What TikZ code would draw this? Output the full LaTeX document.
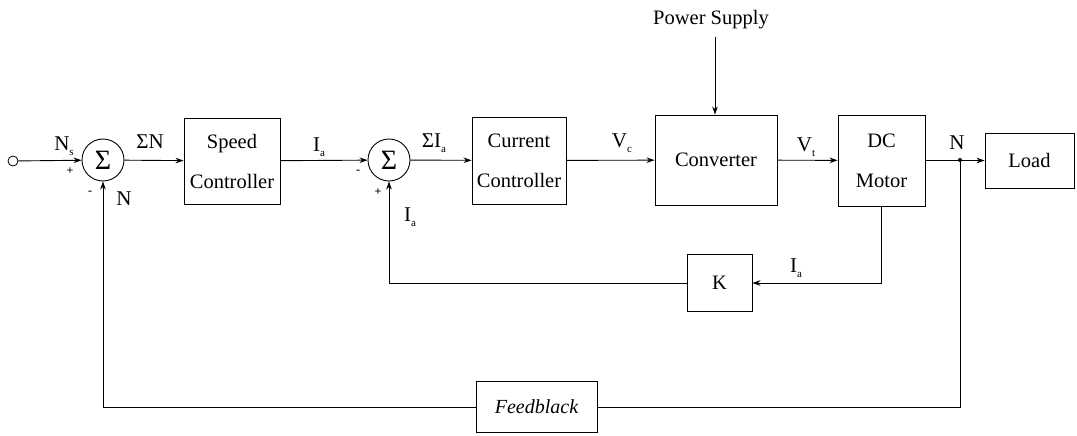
\documentclass[tikz,border=0pt]{standalone}
\usepackage{fontspec}
\setmainfont{Liberation Serif}
\usetikzlibrary{arrows.meta}
\newcommand\sbs[1]{\raisebox{-0.55ex}{\fontsize{11}{11}\selectfont #1}}
\begin{document}
\begin{tikzpicture}[x=1pt,y=-1pt,
  blk/.style={draw,line width=0.9pt,inner sep=0pt,align=center,font=\fontsize{20.5}{40}\selectfont},
  sumc/.style={draw,circle,line width=0.9pt,minimum size=42pt,inner sep=0pt,font=\fontsize{28}{28}\selectfont},
  lab/.style={font=\fontsize{21}{22}\selectfont,inner sep=0pt},
  sgn/.style={font=\fontsize{12}{12}\selectfont\bfseries,inner sep=0pt},
  conn/.style={line width=0.9pt},
  arr/.style={conn,-{Stealth[length=8pt,width=5.5pt]}}]
\useasboundingbox (0,0) rectangle (1077,436);
% nodes
\node[draw,circle,line width=0.8pt,minimum size=10pt,inner sep=0pt] (in) at (13,161) {};
\node[sumc] (s1) at (103,160) {Σ};
\node[blk,minimum width=96pt,minimum height=86pt] (speed) at (232,161) {Speed\\Controller};
\node[sumc] (s2) at (389,160) {Σ};
\node[blk,minimum width=94pt,minimum height=87pt] (cur) at (519,160.5) {Current\\Controller};
\node[blk,minimum width=122pt,minimum height=90pt] (conv) at (716,160) {Converter};
\node[blk,minimum width=87pt,minimum height=91pt] (motor) at (881.5,160.5) {DC\\Motor};
\node[blk,minimum width=89pt,minimum height=55pt] (load) at (1029.5,160.5) {Load};
\node[blk,minimum width=65pt,minimum height=57pt] (k) at (719.5,283) {K};
\node[blk,minimum width=121pt,minimum height=51pt,font=\fontsize{20}{22}\selectfont\itshape] (fb) at (536.5,407) {Feedblack};
\node[font=\fontsize{20.5}{22}\selectfont,inner sep=0pt] (ps) at (711,20) {Power Supply};
\coordinate (pst) at (715,37);
\coordinate (j) at (960,160);
\coordinate (mk) at (motor.south |- k.east);
\coordinate (ks) at (s2.south |- k.west);
\coordinate (jf) at (j |- fb.east);
\coordinate (fs) at (s1.south |- fb.west);
% connectors
\draw[arr] (in) -- (s1);
\draw[arr] (s1) -- (speed);
\draw[arr] (speed) -- (s2);
\draw[arr] (s2) -- (cur);
\draw[arr] (cur) -- (conv);
\draw[arr] (conv) -- (motor);
\draw[arr] (motor) -- (load);
\draw[arr] (pst) -- (pst |- conv.north);
\draw[arr] (motor.south) -- (mk) -- (k.east);
\draw[arr] (k.west) -- (ks) -- (s2.south);
\draw[conn] (j) -- (jf) -- (fb.east);
\draw[arr] (fb.west) -- (fs) -- (s1.south);
\fill (j) circle (2pt);
% labels
\node[lab] at (64,146) {N\sbs{s}};
\node[sgn] at (70,171) {+};
\node[sgn] at (90,193) {-};
\node[lab] at (124,199) {N};
\node[lab] at (150,142) {ΣN};
\node[lab] at (319,147) {I\sbs{a}};
\node[sgn] at (358,172) {-};
\node[sgn] at (378,192) {+};
\node[lab] at (410,217) {I\sbs{a}};
\node[lab] at (434,143) {ΣI\sbs{a}};
\node[lab] at (622,143) {V\sbs{c}};
\node[lab] at (806,147) {V\sbs{t}};
\node[lab] at (957,143) {N};
\node[lab] at (796,268) {I\sbs{a}};
\end{tikzpicture}
\end{document}
